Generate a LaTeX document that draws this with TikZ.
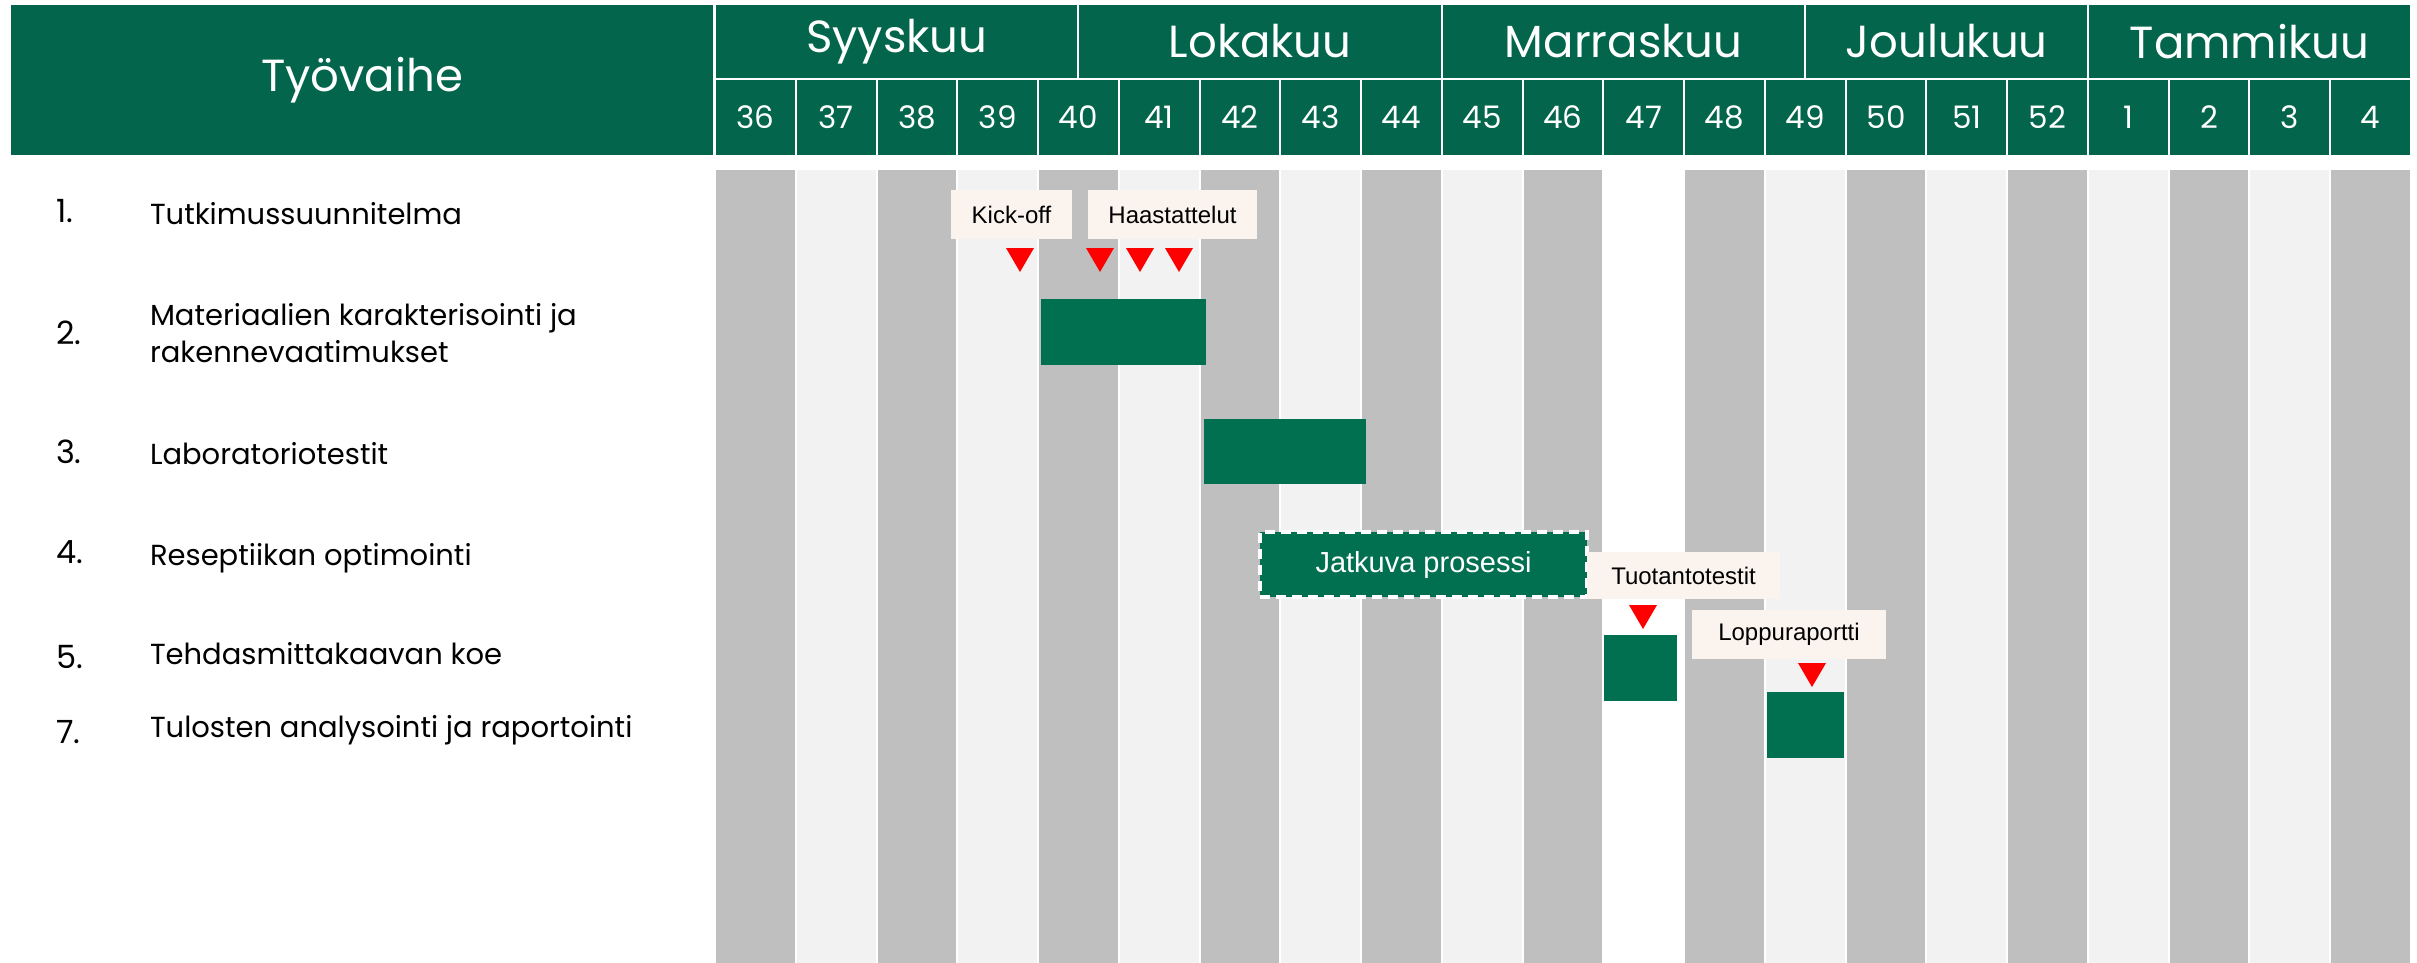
\documentclass[tikz,border=0pt]{standalone}
\usepackage{fontspec}
\setmainfont{Liberation Sans}
\newfontfamily\popfont{Poppins}
\definecolor{hdr}{HTML}{03664C}
\definecolor{barg}{HTML}{007050}
\definecolor{dgray}{HTML}{BFBFBF}
\definecolor{lgray}{HTML}{F2F2F2}
\definecolor{beige}{HTML}{FBF3EE}
\tikzset{
  hdrbox/.style={fill=hdr, text=white, inner sep=0pt, outer sep=0pt, font=\popfont\fontsize{45}{54}\selectfont},
  monbox/.style={fill=hdr, text=white, inner sep=0pt, outer sep=0pt, minimum height=73, font=\popfont\fontsize{45}{54}\selectfont},
  wkbox/.style={fill=hdr, text=white, inner sep=0pt, outer sep=0pt, minimum height=75, minimum width=78.8, font=\popfont\fontsize{31}{38}\selectfont},
  item/.style={inner sep=0pt, outer sep=0pt, anchor=base west, text=black, font=\popfont\fontsize{29}{35}\selectfont},
  num/.style={item, font=\popfont\fontsize{32}{38}\selectfont},
  lab/.style={fill=beige, inner sep=0pt, outer sep=0pt, text=black, font=\fontsize{24}{29}\selectfont},
  bar/.style={fill=barg},
  tri/.style={fill=red},
  contbox/.style={fill=barg, draw=white, line width=3.5pt, dash pattern=on 10pt off 6pt, text=white, inner sep=0pt, font=\fontsize{29}{35}\selectfont}
}
\newcommand\redtri[3]{\fill[tri] ({#1-14},#2) -- ({#1+14},#2) -- (#1,{#2+24}) -- cycle; \coordinate (#3) at (#1,{#2+24});}
\begin{document}
\begin{tikzpicture}[x=1pt,y=-1pt]
\useasboundingbox (0,0) rectangle (2417,963);
\fill[white] (0,0) rectangle (2417,963);
% left header
\node[hdrbox, minimum width=702, minimum height=150, anchor=north west] (hd) at (11,5) {Työvaihe};
% columns and week numbers
\foreach \w [count=\j from 0] in {36,37,38,39,40,41,42,43,44,45,46,47,48,49,50,51,52,1,2,3,4} {
  \pgfmathsetmacro\xa{715+\j*80.76+1}
  \pgfmathsetmacro\xb{715+(\j+1)*80.76-1}
  \pgfmathtruncatemacro\pp{mod(\j,2)}
  \ifnum\j=11 \def\cc{white}\else\ifnum\pp=0 \def\cc{dgray}\else\def\cc{lgray}\fi\fi
  \fill[\cc] (\xa,170) rectangle (\xb,963);
  \node[wkbox] (w\w) at ({(\xa+\xb)/2},117.5) {\w};
}
% months
\node[monbox, minimum width=361.4] (m1) at ({(715+1078.4)/2},41.5) {Syyskuu};
\node[monbox, minimum width=361.4] (m2) at ({(1078.4+1441.8)/2},41.5) {Lokakuu};
\node[monbox, minimum width=361.5] (m3) at ({(1441.8+1805.3)/2},41.5) {Marraskuu};
\node[monbox, minimum width=280.7] (m4) at ({(1805.3+2088)/2},41.5) {Joulukuu};
\node[monbox, minimum width=321.0] (m5) at ({(2088+2411)/2},41.5) {Tammikuu};
% task list
\node[num] (n1) at (56,222) {1.};
\node[item] (l1) at (150,224) {Tutkimussuunnitelma};
\node[num] (n2) at (56,344) {2.};
\node[item] (l2a) at (150,325) {Materiaalien karakterisointi ja};
\node[item] (l2b) at (150,362) {rakennevaatimukset};
\node[num] (n3) at (56,463) {3.};
\node[item] (l3) at (150,464) {Laboratoriotestit};
\node[num] (n4) at (56,563) {4.};
\node[item] (l4) at (150,565) {Reseptiikan optimointi};
\node[num] (n5) at (56,668) {5.};
\node[item] (l5) at (150,664) {Tehdasmittakaavan koe};
\node[num] (n7) at (56,743) {7.};
\node[item] (l7) at (150,737) {Tulosten analysointi ja raportointi};
% bars
\fill[bar] (1041,299) rectangle (1206,365);
\fill[bar] (1204,419) rectangle (1366,484);
\fill[bar] (1604,635) rectangle (1677,701);
\fill[bar] (1767,692) rectangle (1844,758);
\node[contbox, minimum width=327, minimum height=65] (cont) at (1423.5,564.5) {Jatkuva prosessi};
% labels
\node[lab, minimum width=121, minimum height=49] (kick) at (1011.5,214.5) {Kick-off};
\node[lab, minimum width=169, minimum height=49] (haas) at (1172.5,214.5) {Haastattelut};
\node[lab, minimum width=193, minimum height=47] (tuot) at (1683.5,575.5) {Tuotantotestit};
\node[lab, minimum width=194, minimum height=49] (lopp) at (1789,634.5) {Loppuraportti};
% triangles
\redtri{1020}{248}{tk}
\redtri{1100}{248}{th1}
\redtri{1140}{248}{th2}
\redtri{1179}{248}{th3}
\redtri{1643}{605}{tt}
\redtri{1812}{663}{tl}
\end{tikzpicture}
\end{document}
